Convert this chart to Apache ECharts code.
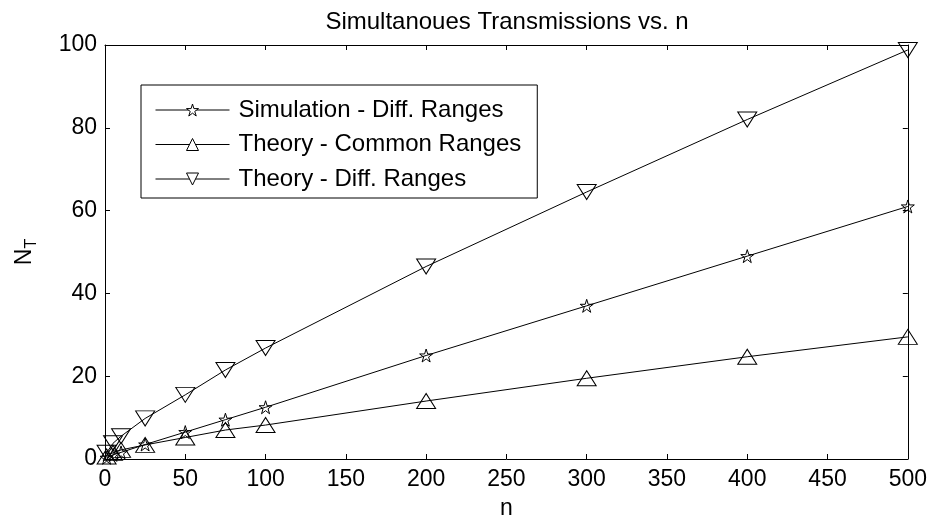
<!DOCTYPE html>
<html><head><meta charset="utf-8">
<script src="https://cdn.jsdelivr.net/npm/echarts@6/dist/echarts.min.js"></script>
<style>html,body{margin:0;padding:0;background:#fff}#c{width:930px;height:525px}</style>
</head><body><div id="c"></div>
<script>
const nValues = [1, 5, 10, 25, 50, 75, 100, 200, 300, 400, 500];
const simDiff = [0.3, 1.0, 1.6, 3.5, 6.5, 9.5, 12.5, 25, 37, 49, 61];
const theoryCommon = [0.6, 1.5, 2.2, 3.4, 5.2, 7.0, 8.2, 14, 19.5, 24.7, 29.5];
const theoryDiff = [1.5, 3.8, 5.5, 9.8, 15.5, 21.5, 26.8, 46.5, 64.5, 82, 98.8];
const seriesNames = ['Simulation - Diff. Ranges', 'Theory - Common Ranges', 'Theory - Diff. Ranges'];
const xTicks = [0, 50, 100, 150, 200, 250, 300, 350, 400, 450, 500];
const yTicks = [0, 20, 40, 60, 80, 100];

const star = 'path://M50 0 L61.17 34.63 L97.55 34.55 L68.07 55.87 L79.39 90.45 L50 69 L20.61 90.45 L31.93 55.87 L2.45 34.55 L38.83 34.63 Z';
const font = 'Liberation Sans, Arial, sans-serif';
const pair = (ys) => nValues.map((x, i) => [x, ys[i]]);

const chart = echarts.init(document.getElementById('c'), null, {renderer: 'canvas'});
const tickInside = {show: true, inside: true, length: 5, lineStyle: {color: '#000', width: 1}};
const axisLine = {show: true, onZero: false, lineStyle: {color: '#000', width: 1}};
function mkSeries(name, ys, symbol, size, rotate) {
  return {
    name, type: 'line', data: pair(ys), symbol, symbolSize: size, symbolRotate: rotate || 0,
    showAllSymbol: true, z: 3,
    lineStyle: {color: '#000', width: 1},
    itemStyle: {color: 'rgba(255,255,255,0)', borderColor: '#000', borderWidth: 1},
    emphasis: {disabled: true}, animation: false
  };
}
chart.setOption({
  animation: false,
  backgroundColor: '#fff',
  title: {text: 'Simultanoues Transmissions vs. n', left: 502, top: 5, textAlign: 'center',
    textStyle: {fontFamily: font, fontSize: 24, fontWeight: 'normal', color: '#000'}},
  grid: {left: 105, right: 22, top: 45, bottom: 64},
  legend: {
    orient: 'vertical', left: 141, top: 85, data: seriesNames,
    backgroundColor: '#fff', borderColor: '#000', borderWidth: 1,
    padding: [13, 16, 7, 14], itemGap: 10.5, itemWidth: 74, itemHeight: 15,
    itemStyle: {color: '#fff', borderColor: '#000', borderWidth: 1},
    lineStyle: {color: '#000', width: 1},
    textStyle: {fontFamily: font, fontSize: 24, color: '#000', lineHeight: 24, padding: [0, 0, 0, 4]}
  },
  xAxis: [
    {type: 'value', min: 0, max: 500, interval: 50, position: 'bottom',
      name: 'n', nameLocation: 'middle', nameGap: 38,
      nameTextStyle: {fontFamily: font, fontSize: 23, color: '#000'},
      axisLine, axisTick: tickInside, splitLine: {show: false},
      axisLabel: {fontFamily: font, fontSize: 23, color: '#000', margin: 9}},
    {type: 'value', min: 0, max: 500, interval: 50, position: 'top',
      axisLine, axisTick: tickInside, splitLine: {show: false}, axisLabel: {show: false}}
  ],
  yAxis: [
    {type: 'value', min: 0, max: 100, interval: 20, position: 'left',
      name: '{n|N}{t|T}', nameLocation: 'middle', nameGap: 65, nameRotate: 90,
      nameTextStyle: {rich: {
        n: {fontFamily: font, fontSize: 23, color: '#000'},
        t: {fontFamily: font, fontSize: 16, color: '#000', padding: [14, 0, 0, 0]}
      }},
      axisLine, axisTick: tickInside, splitLine: {show: false},
      axisLabel: {fontFamily: font, fontSize: 23, color: '#000', margin: 8}},
    {type: 'value', min: 0, max: 100, interval: 20, position: 'right',
      axisLine, axisTick: tickInside, splitLine: {show: false}, axisLabel: {show: false}}
  ],
  series: [
    mkSeries(seriesNames[0], simDiff, star, 13),
    mkSeries(seriesNames[1], theoryCommon, 'triangle', [19, 15]),
    mkSeries(seriesNames[2], theoryDiff, 'triangle', [19, 15], 180)
  ]
});
</script></body></html>
